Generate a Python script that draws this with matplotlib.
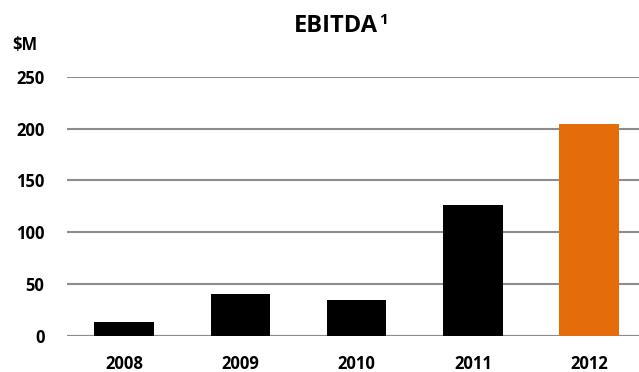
import matplotlib
matplotlib.use("Agg")
import matplotlib.pyplot as plt

years = ["2008", "2009", "2010", "2011", "2012"]
ebitda = [13.2, 40.5, 34.4, 126.0, 204.4]
bar_colors = ["#000000", "#000000", "#000000", "#000000", "#E46C0A"]
yticks = [0, 50, 100, 150, 200, 250]

plt.rcParams['font.family'] = ['Open Sans', 'DejaVu Sans']

W, H = 639, 372
fig = plt.figure(figsize=(W / 100, H / 100), dpi=100)
left_px, right_px = 66.7, 639
bot_px, top_px = 336, 76.7
ax = fig.add_axes([left_px / W, 1 - bot_px / H, (right_px - left_px) / W, (bot_px - top_px) / H])

x = list(range(len(years)))
ax.bar(x, ebitda, width=0.512, color=bar_colors, zorder=3)
ax.set_xlim(-0.493, 4.428)
ax.set_ylim(0, 250)
ax.set_yticks(yticks)
ax.set_yticklabels([str(v) for v in yticks], fontsize=12, fontweight='bold')
ax.set_xticks(x)
ax.set_xticklabels(years, fontsize=12, fontweight='bold')
ax.tick_params(axis='y', length=0, pad=16)
ax.tick_params(axis='x', length=0, pad=14)
ax.grid(axis='y', color='#8c8c8c', linewidth=1.5, zorder=0)
ax.set_axisbelow(True)
for s in ax.spines.values():
    s.set_visible(False)
ax.axhline(0, color='#8c8c8c', linewidth=1.5, zorder=2)

t = fig.text(336 / W, 1 - 26 / H, "EBITDA", ha='center', va='center',
             fontsize=17, fontweight='bold')
ax.annotate("1", xy=(1, 1), xycoords=t, xytext=(0.5, 1), textcoords='offset points',
            ha='left', va='top', fontsize=11, fontweight='bold')
fig.text(12.7 / W, 1 - 45 / H, "$M", ha='left', va='center', fontsize=12, fontweight='bold')

fig.savefig("out.png", dpi=100)
